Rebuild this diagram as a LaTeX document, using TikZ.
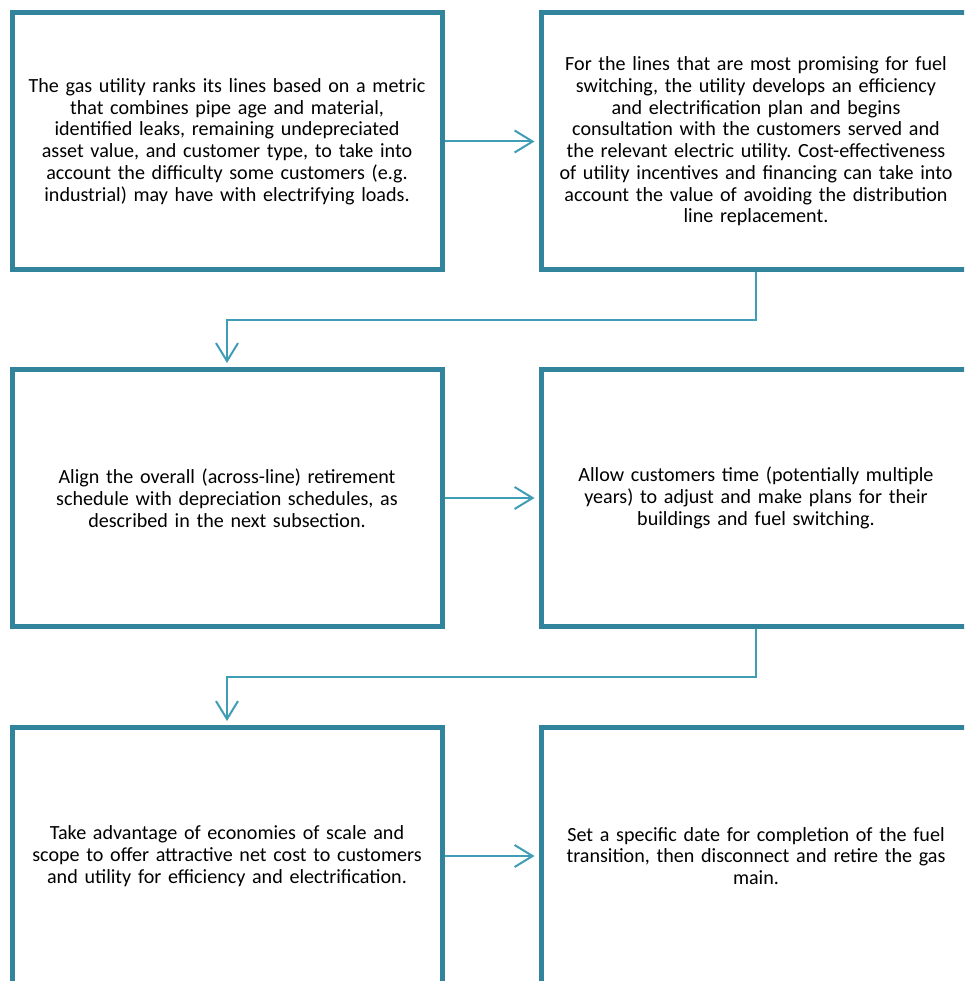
\documentclass[tikz,border=0pt]{standalone}
\usepackage{fontspec}
\setmainfont{Carlito}
\usetikzlibrary{arrows.meta}
\definecolor{boxc}{HTML}{31849B}
\definecolor{linkc}{HTML}{3F9DB5}
\tikzset{
  stepbox/.style={draw=boxc, line width=5pt, minimum width=430pt, minimum height=257pt,
    text width=428pt, align=center, inner sep=0pt,
    font=\fontsize{20.1}{21.75}\selectfont\frenchspacing},
  link/.style={draw=linkc, line width=2pt,
    -{Straight Barb[length=18pt,width=22pt,line width=2pt]}, shorten >=4pt}
}
\begin{document}
\begin{tikzpicture}[x=1pt,y=-1pt]
\useasboundingbox (0,0) rectangle (964,981);
\clip (0,0) rectangle (964,981);
\fill[white] (0,0) rectangle (964,981);
\node[stepbox] (a) at (227,141.5) {The gas utility ranks its lines based on a metric\\ that combines pipe age and material,\\ identified leaks, remaining undepreciated\\ asset value, and customer type, to take into\\ account the difficulty some customers (e.g.\\ industrial) may have with electrifying loads.};
\node[stepbox] (b) at (756,141.5) {For the lines that are most promising for fuel\\ switching, the utility develops an efficiency\\ and electrification plan and begins\\ consultation with the customers served and\\ the relevant electric utility. Cost-effectiveness\\ of utility incentives and financing can take into\\ account the value of avoiding the distribution\\ line replacement.};
\node[stepbox] (c) at (227,498) {Align the overall (across-line) retirement\\ schedule with depreciation schedules, as\\ described in the next subsection.};
\node[stepbox] (d) at (756,498) {Allow customers time (potentially multiple\\ years) to adjust and make plans for their\\ buildings and fuel switching.};
\node[stepbox] (e) at (227,856) {Take advantage of economies of scale and\\ scope to offer attractive net cost to customers\\ and utility for efficiency and electrification.};
\node[stepbox] (f) at (756,856) {Set a specific date for completion of the fuel\\ transition, then disconnect and retire the gas\\ main.};
\coordinate (k1) at (756,320);
\coordinate (k2) at (756,677);
\draw[link] (a.east) -- (b.west);
\draw[link] (c.east) -- (d.west);
\draw[link] (e.east) -- (f.west);
\draw[link] (b.south) -- (k1) -| (c.north);
\draw[link] (d.south) -- (k2) -| (e.north);
\end{tikzpicture}
\end{document}
